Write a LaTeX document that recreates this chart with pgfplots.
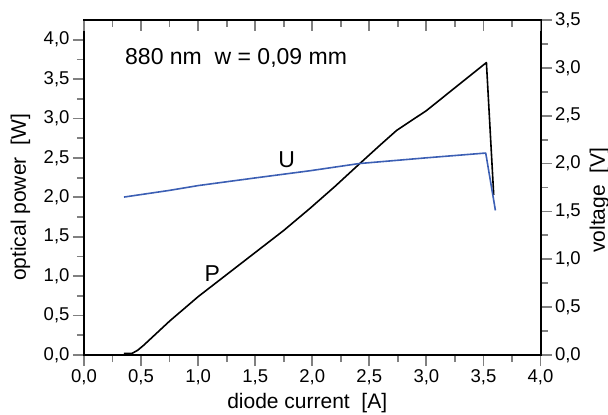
\documentclass[border=0pt]{standalone}
\usepackage{fontspec}
\setmainfont{Liberation Sans}
\usepackage{pgfplots}
\pgfplotsset{compat=1.18}

\definecolor{ublue}{RGB}{60,95,180}

\pgfplotsset{
  common/.style={
    scale only axis,
    width=456.5pt, height=335pt,
    xmin=0, xmax=4,
    xtick={0,0.5,...,4},
    minor x tick num=1,
    axis line style={line width=2pt, line cap=rect},
    major tick style={line width=1.8pt},
    minor tick style={line width=1.8pt},
    major tick length=11pt,
    minor tick length=7pt,
    tick label style={font=\fontsize{18.5}{21}\selectfont},
    /pgf/number format/.cd, use comma, fixed, fixed zerofill, precision=1,
    assume math mode=true,
  },
}

\begin{document}
\begin{tikzpicture}
% optical power, left and bottom axes
\begin{axis}[common, name=main,
  axis x line*=bottom, axis y line*=left,
  tick align=outside,
  ymin=0, ymax=4.25,
  ytick={0,0.5,...,4},
  minor y tick num=1,
  clip=false]
  \addplot[black, line width=1.6pt, line join=round] coordinates {
    (0.35,0.02) (0.42,0.02) (0.47,0.06) (0.52,0.12) (0.75,0.43)
    (1.00,0.74) (1.25,1.02) (1.50,1.30) (1.75,1.58) (1.98,1.86)
    (2.20,2.14) (2.41,2.42) (2.60,2.67) (2.74,2.85) (3.00,3.10)
    (3.25,3.39) (3.526,3.71) (3.59,2.03)
  };
  \node[font=\fontsize{23}{27}\selectfont, anchor=base west] at (axis cs:0.33,3.69) {880 nm\ \ w = 0,09 mm};
  \node[font=\fontsize{23}{27}\selectfont] at (axis cs:1.125,1.034) {P};
  \node[font=\fontsize{23}{27}\selectfont] at (axis cs:1.777,2.475) {U};
  \node[font=\fontsize{21}{25}\selectfont, rotate=90] at (rel axis cs:-0.139,0.47) {optical power\ \ [W]};
  \node[font=\fontsize{21}{25}\selectfont, rotate=90] at (rel axis cs:1.129,0.462) {voltage\ \ [V]};
  \node[font=\fontsize{21}{25}\selectfont, anchor=base] at (rel axis cs:0.489,-0.16) {diode current\ \ [A]};
\end{axis}
% voltage, right axis
\begin{axis}[common,
  axis x line=none, axis y line*=right,
  tick align=outside,
  ymin=0, ymax=3.5,
  ytick={0,0.5,...,3.5},
  minor y tick num=1]
  \addplot[ublue, line width=1.6pt, line join=round] coordinates {
    (0.35,1.65) (0.75,1.72) (1.00,1.77) (1.50,1.85) (1.98,1.925)
    (2.41,2.00) (3.00,2.06) (3.52,2.11) (3.605,1.51)
  };
\end{axis}
% top frame with inward ticks
\begin{axis}[common,
  axis x line*=top, axis y line=none,
  tick align=inside,
  xticklabels={},
  ymin=0, ymax=1]
\end{axis}
\pgfresetboundingbox
\path[use as bounding box] ([shift={(-84pt,-59pt)}]main.south west) rectangle ([shift={(67.5pt,20pt)}]main.north east);
\end{tikzpicture}
\end{document}
